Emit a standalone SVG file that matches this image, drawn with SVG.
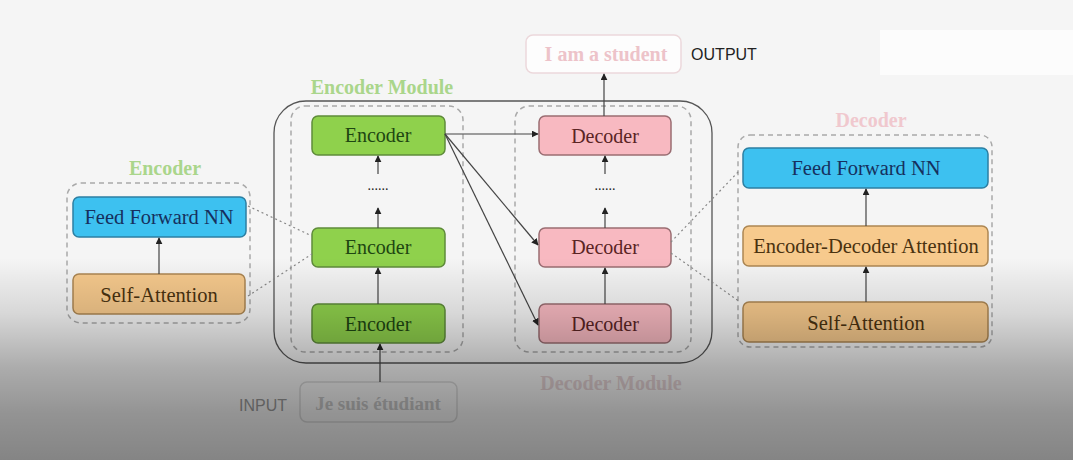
<svg xmlns="http://www.w3.org/2000/svg" width="1073" height="460" viewBox="0 0 1073 460">
<defs>
<linearGradient id="shade" x1="0" y1="0" x2="0" y2="1">
<stop offset="0" stop-color="#000" stop-opacity="0"/>
<stop offset="0.56" stop-color="#000" stop-opacity="0"/>
<stop offset="0.68" stop-color="#000" stop-opacity="0.12"/>
<stop offset="0.8" stop-color="#000" stop-opacity="0.3"/>
<stop offset="0.9" stop-color="#000" stop-opacity="0.4"/>
<stop offset="1" stop-color="#000" stop-opacity="0.46"/>
</linearGradient>
<marker id="ah" viewBox="0 0 10 10" refX="9" refY="5" markerWidth="7" markerHeight="7" orient="auto-start-reverse" markerUnits="userSpaceOnUse">
<path d="M0,0 L10,5 L0,10 z" fill="#222"/>
</marker>
</defs>
<style>
text{font-family:"Liberation Serif","Times New Roman",serif;text-anchor:middle;dominant-baseline:central}
.enc{fill:#8fd14c;stroke:#5f8c3a;stroke-width:1.5}
.dec{fill:#f8b9c1;stroke:#9a6d72;stroke-width:1.5}
.ffn{fill:#3dc1f0;stroke:#2c7fa2;stroke-width:1.5}
.att{fill:#f7ca8d;stroke:#ad8753;stroke-width:1.5}
.te{fill:#1e4612;font-size:20px}
.td{fill:#5a2424;font-size:20px}
.tf{fill:#16305e;font-size:20.5px}
.ta{fill:#4a3210;font-size:20.5px}
.dash{fill:none;stroke:#a9a9a9;stroke-width:1.5;stroke-dasharray:5 4}
.dlink{fill:none;stroke:#888;stroke-width:1.2;stroke-dasharray:2 3}
.ln{fill:none;stroke:#444;stroke-width:1.2}
.title{font-weight:bold;font-size:20px}
.sans{font-family:"Liberation Sans",Arial,sans-serif}
</style>
<rect x="0" y="0" width="1073" height="460" fill="#f5f5f5"/>
<rect x="880" y="30" width="193" height="45" fill="#ffffff" opacity="0.7"/>

<g id="containers">
<rect x="274" y="101" width="438" height="262" rx="32" fill="none" stroke="#555" stroke-width="1.3"/>
<rect class="dash" x="291" y="106" width="172" height="246" rx="14"/>
<rect class="dash" x="515" y="106" width="176" height="246" rx="14"/>
<rect class="dash" x="67" y="183" width="183" height="140" rx="14"/>
<rect class="dash" x="738" y="135" width="254" height="212" rx="12"/>
<text class="title" x="382" y="87" fill="#aad68b">Encoder Module</text>
<text class="title" x="611" y="383" fill="#e2d0d2">Decoder Module</text>
<text class="title" x="165" y="168" fill="#aad68b">Encoder</text>
<text class="title" x="871" y="120" fill="#f0c8ce">Decoder</text>
</g>

<g id="output">
<rect x="526" y="35" width="155" height="38" rx="7" fill="#fdfdfd" stroke="#ecd8db" stroke-width="1.5"/>
<text x="606" y="54" fill="#edc3c9" font-size="20" font-weight="bold">I am a student</text>
<text class="sans" x="724" y="54" fill="#222" font-size="16">OUTPUT</text>
</g>

<g id="input">
<rect x="300" y="382" width="157" height="40" rx="7" fill="none" stroke="#d6d6d6" stroke-width="1.5"/>
<text x="378" y="403" fill="#c6c6c6" font-size="19" font-weight="bold">Je suis étudiant</text>
<text class="sans" x="263" y="405" fill="#9a9a9a" font-size="16">INPUT</text>
</g>

<g id="encoder3"><rect class="enc" x="312" y="116" width="133" height="39" rx="6"/><text class="te" x="378" y="135">Encoder</text></g>
<g id="encoder2"><rect class="enc" x="312" y="228" width="133" height="39" rx="6"/><text class="te" x="378" y="247">Encoder</text></g>
<g id="encoder1"><rect class="enc" x="312" y="304" width="133" height="39" rx="6"/><text class="te" x="378" y="324">Encoder</text></g>
<g id="encdots"><text x="378" y="185" fill="#222" font-size="14">......</text></g>

<g id="decoder3"><rect class="dec" x="539" y="116" width="132" height="39" rx="6"/><text class="td" x="605" y="136">Decoder</text></g>
<g id="decoder2"><rect class="dec" x="539" y="228" width="132" height="39" rx="6"/><text class="td" x="605" y="247">Decoder</text></g>
<g id="decoder1"><rect class="dec" x="539" y="304" width="132" height="39" rx="6"/><text class="td" x="605" y="324">Decoder</text></g>
<g id="decdots"><text x="605" y="185" fill="#222" font-size="14">......</text></g>

<g id="enc-ffn"><rect class="ffn" x="73" y="197" width="173" height="40" rx="6"/><text class="tf" x="159" y="217">Feed Forward NN</text></g>
<g id="enc-sa"><rect class="att" x="73" y="274" width="172" height="40" rx="6"/><text class="ta" x="159" y="295">Self-Attention</text></g>

<g id="dec-ffn"><rect class="ffn" x="743" y="148" width="245" height="40" rx="6"/><text class="tf" x="866" y="168">Feed Forward NN</text></g>
<g id="dec-eda"><rect class="att" x="743" y="226" width="245" height="40" rx="6"/><text class="ta" x="866" y="246">Encoder-Decoder Attention</text></g>
<g id="dec-sa"><rect class="att" x="743" y="302" width="245" height="40" rx="6"/><text class="ta" x="866" y="323">Self-Attention</text></g>

<g id="connectors">
<line class="ln" x1="380" y1="382" x2="380" y2="344" marker-end="url(#ah)"/>
<line class="ln" x1="378" y1="304" x2="378" y2="268" marker-end="url(#ah)"/>
<line class="ln" x1="378" y1="228" x2="378" y2="208" marker-end="url(#ah)"/>
<line class="ln" x1="378" y1="174" x2="378" y2="156" marker-end="url(#ah)"/>
<line class="ln" x1="605" y1="304" x2="605" y2="268" marker-end="url(#ah)"/>
<line class="ln" x1="605" y1="228" x2="605" y2="208" marker-end="url(#ah)"/>
<line class="ln" x1="605" y1="174" x2="605" y2="156" marker-end="url(#ah)"/>
<line class="ln" x1="604" y1="116" x2="604" y2="74" marker-end="url(#ah)"/>
<line class="ln" x1="445" y1="134" x2="538" y2="134" marker-end="url(#ah)"/>
<line class="ln" x1="445" y1="134" x2="538" y2="245" marker-end="url(#ah)"/>
<line class="ln" x1="445" y1="134" x2="538" y2="325" marker-end="url(#ah)"/>
<line class="ln" x1="159" y1="274" x2="159" y2="238" marker-end="url(#ah)"/>
<line class="ln" x1="866" y1="302" x2="866" y2="267" marker-end="url(#ah)"/>
<line class="ln" x1="866" y1="226" x2="866" y2="189" marker-end="url(#ah)"/>
<line class="dlink" x1="248" y1="206" x2="312" y2="236"/>
<line class="dlink" x1="248" y1="296" x2="312" y2="254"/>
<line class="dlink" x1="671" y1="242" x2="740" y2="170"/>
<line class="dlink" x1="671" y1="253" x2="740" y2="302"/>
</g>

<rect x="0" y="0" width="1073" height="460" fill="url(#shade)" pointer-events="none"/>
</svg>
